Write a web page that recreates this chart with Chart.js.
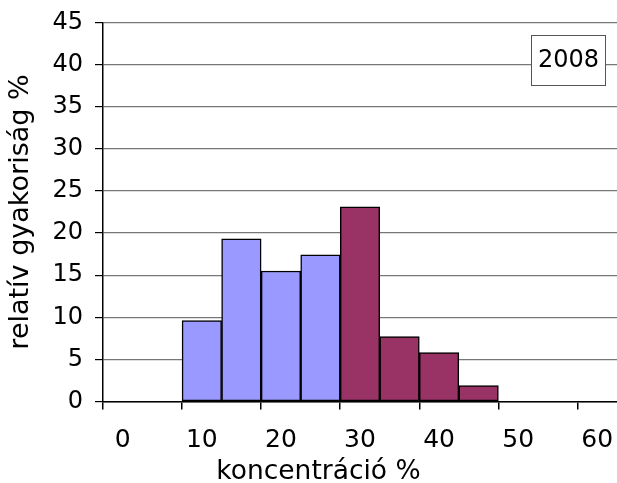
<!DOCTYPE html>
<html>
<head>
<meta charset="utf-8">
<script src="https://cdn.jsdelivr.net/npm/chart.js@4"></script>
<style>
html,body{margin:0;padding:0;background:#fff;}
#wrap{width:617px;height:483px;}
</style>
</head>
<body>
<div id="wrap"><canvas id="c" width="617" height="483"></canvas></div>
<script>
const categories = ['0','5','10','15','20','25','30','35','40','45','50','55','60'];
const lowGroup  = [null, null, 9.6, 19.3, 15.5, 17.4, null, null, null, null, null, null, null];
const highGroup = [null, null, null, null, null, null, 23.1, 7.7, 5.8, 1.9, null, null, null];
const yTicks = [0,5,10,15,20,25,30,35,40,45];
const xLabelTitle = 'koncentráció %';
const yLabelTitle = 'relatív gyakoriság %';
const yearLabel = '2008';

const FONT = 'DejaVu Sans, Verdana, sans-serif';

const extras = {
  id: 'extras',
  afterDraw(chart) {
    const ctx = chart.ctx, a = chart.chartArea;
    ctx.save();
    // year box
    ctx.font = '24px ' + FONT;
    const w = 74, h = 50;
    const x = a.right - 86, y = a.top + 12.5;
    ctx.fillStyle = '#fff';
    ctx.fillRect(x, y, w, h);
    ctx.strokeStyle = '#555';
    ctx.lineWidth = 1;
    ctx.strokeRect(x + 0.5, y + 0.5, w, h);
    ctx.fillStyle = '#000';
    ctx.textAlign = 'center';
    ctx.textBaseline = 'middle';
    ctx.fillText(yearLabel, x + w / 2 + 0.5, y + h / 2 + 1);
    // x-axis title
    ctx.font = '26.5px ' + FONT;
    ctx.textBaseline = 'alphabetic';
    ctx.fillText(xLabelTitle, chart.width / 2 + 10, chart.height - 4);
    ctx.restore();
  }
};

new Chart(document.getElementById('c'), {
  type: 'bar',
  data: {
    labels: categories,
    datasets: [
      { label: 'low', data: lowGroup, backgroundColor: '#9999FF', borderColor: '#000', borderWidth: 1.5, borderSkipped: false },
      { label: 'high', data: highGroup, backgroundColor: '#993366', borderColor: '#000', borderWidth: 1.5, borderSkipped: false }
    ]
  },
  options: {
    responsive: false,
    animation: false,
    devicePixelRatio: 1,
    layout: { padding: { top: 22.5, right: 0, left: 5, bottom: 0 } },
    datasets: { bar: { barPercentage: 1, categoryPercentage: 1 } },
    plugins: { legend: { display: false }, tooltip: { enabled: false } },
    scales: {
      x: {
        stacked: true,
        offset: true,
        afterFit(s) { s.height = 81.5; s.paddingLeft = 0; s.paddingRight = 0; },
        border: { display: true, color: '#000', width: 1.5 },
        grid: {
          offset: true,
          drawOnChartArea: false,
          drawTicks: true,
          tickLength: 8,
          tickColor: (c) => (c.index % 2 === 0 ? '#000' : 'rgba(0,0,0,0)'),
          lineWidth: 1.5
        },
        ticks: {
          autoSkip: false,
          maxRotation: 0,
          padding: 16,
          color: '#000',
          font: { family: FONT, size: 25 },
          callback: function (v, i) { return i % 2 === 0 ? categories[i] : ''; }
        },
        title: { display: false }
      },
      y: {
        stacked: true,
        min: 0,
        max: 45,
        afterFit(s) { s.width = 98; s.paddingTop = 0; s.paddingBottom = 0; },
        afterBuildTicks(s) { s.ticks = yTicks.map(v => ({ value: v })); },
        border: { display: true, color: '#000', width: 1.5 },
        grid: {
          color: '#777',
          lineWidth: 1.2,
          tickColor: '#000',
          tickLength: 8
        },
        ticks: {
          padding: 12,
          color: '#000',
          font: { family: FONT, size: 24 }
        },
        title: {
          display: true,
          text: yLabelTitle,
          color: '#000',
          font: { family: FONT, size: 27 },
          padding: { top: 0, bottom: 0 }
        }
      }
    }
  },
  plugins: [extras]
});
</script>
</body>
</html>
